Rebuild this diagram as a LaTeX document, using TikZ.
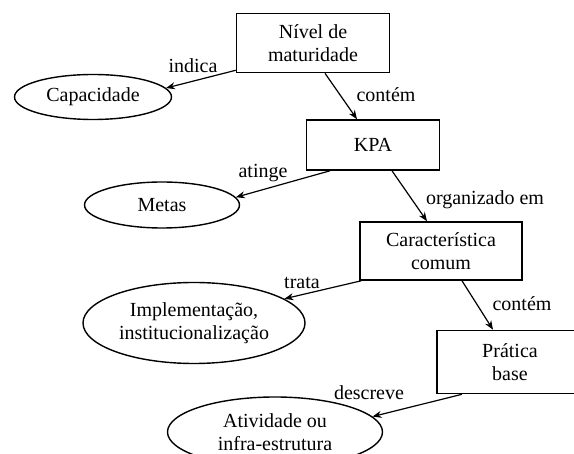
\documentclass[tikz,border=0pt]{standalone}
\usepackage{fontspec}
\setmainfont{Liberation Serif}
\usetikzlibrary{arrows.meta,shapes.geometric}
\begin{document}
\begin{tikzpicture}[x=1pt,y=-1pt,
  every node/.style={font=\fontsize{20}{23}\selectfont},
  box/.style={draw, line width=1.6pt, rectangle, align=center, inner sep=0pt},
  ell/.style={draw, line width=1.4pt, ellipse, align=center, inner sep=0pt},
  lbl/.style={inner sep=0pt},
  con/.style={line width=1.2pt, -{Stealth[length=9pt,width=7pt]}}]
\useasboundingbox (0,0) rectangle (574,454);
\clip (0,0) rectangle (574,454);
\node[box, minimum width=153pt, minimum height=59pt] (niv) at (313,43) {Nível de\\maturidade};
\node[ell, minimum width=157pt, minimum height=45pt] (cap) at (93,97) {Capacidade};
\node[box, minimum width=133pt, minimum height=50pt] (kpa) at (373,145) {KPA};
\node[ell, minimum width=155pt, minimum height=46pt] (met) at (162,205) {Metas};
\node[box, minimum width=162pt, minimum height=58pt] (car) at (441,251) {Característica\\comum};
\node[ell, minimum width=222pt, minimum height=81pt] (imp) at (194,323) {Implementação,\\institucionalização};
\node[box, minimum width=146pt, minimum height=63pt] (pra) at (510,362) {Prática\\base};
\node[ell, minimum width=215pt, minimum height=70pt] (atv) at (275,432) {Atividade ou\\infra-estrutura};

\node[lbl] (l1) at (193,66) {indica};
\node[lbl] (l2) at (386,95) {contém};
\node[lbl] (l3) at (263,173) {atinge};
\node[lbl] (l4) at (485,200) {organizado em};
\node[lbl] (l5) at (302,283) {trata};
\node[lbl] (l6) at (522,304) {contém};
\node[lbl] (l7) at (369,393) {descreve};

\draw[con] ([yshift=3pt]niv.south west) -- (cap.7);
\draw[con] ([xshift=12pt]niv.south) -- ([xshift=-16pt]kpa.north);
\draw[con] ([xshift=-43pt]kpa.south) -- (met.6);
\draw[con] ([xshift=19pt]kpa.south) -- ([xshift=-14pt]car.north);
\draw[con] ([xshift=2pt]car.south west) -- (imp.15);
\draw[con] ([xshift=21pt]car.south) -- ([xshift=-17pt]pra.north);
\draw[con] ([xshift=-48pt]pra.south) -- (atv.9);
\end{tikzpicture}
\end{document}
